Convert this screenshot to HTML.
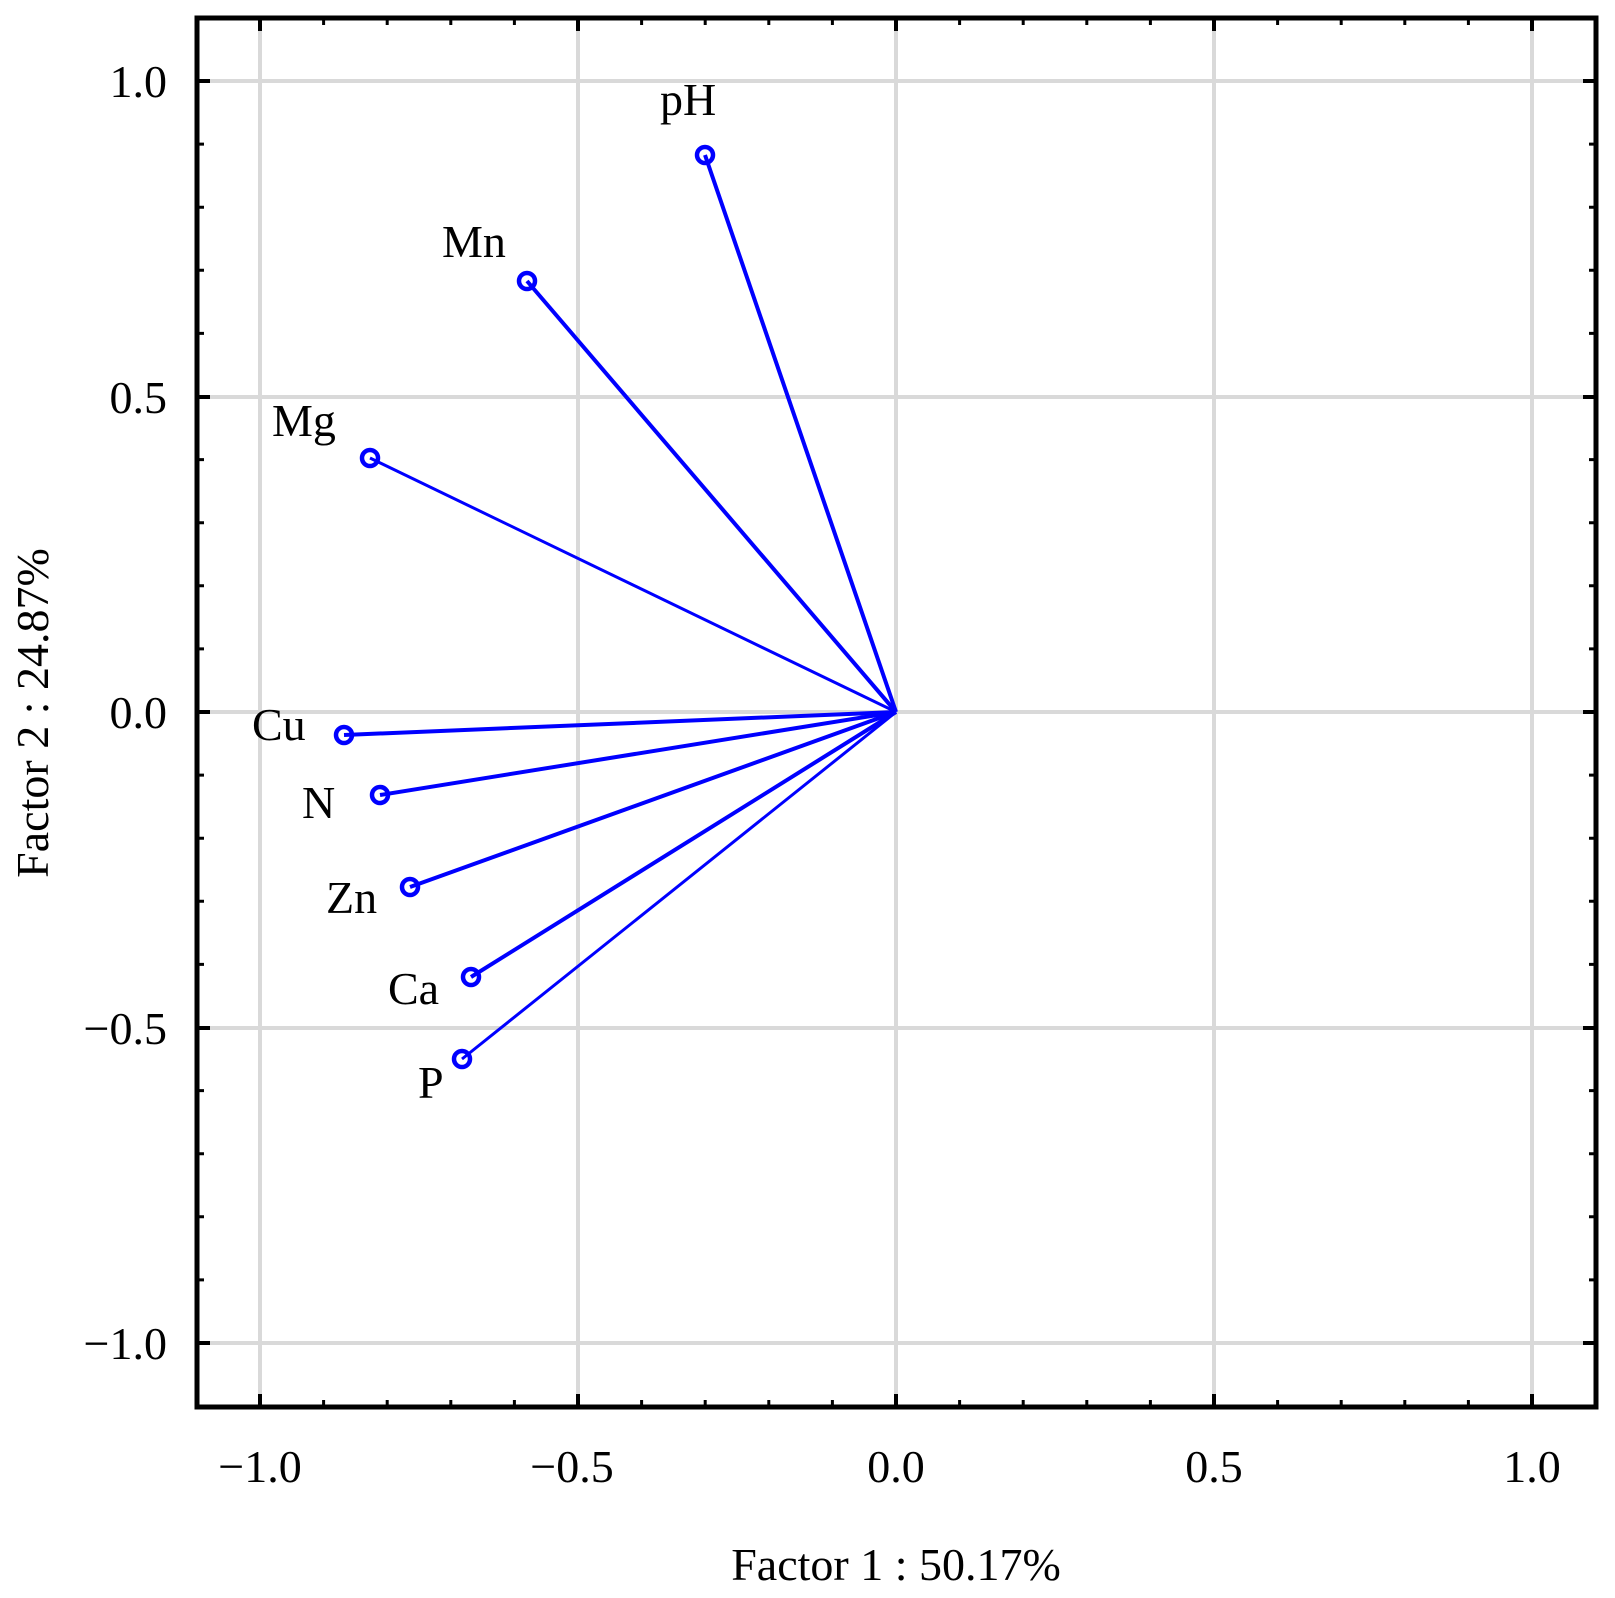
<!DOCTYPE html>
<html><head><meta charset="utf-8"><style>
html,body{margin:0;padding:0;background:#fff;}
svg text{font-family:"Liberation Serif",serif;fill:#000;}
</style></head><body>
<svg width="1615" height="1593" viewBox="0 0 1615 1593" xmlns="http://www.w3.org/2000/svg">
<g stroke="#d9d9d9" stroke-width="4">
<line x1="260" y1="18" x2="260" y2="1407"/><line x1="578" y1="18" x2="578" y2="1407"/>
<line x1="896" y1="18" x2="896" y2="1407"/><line x1="1214" y1="18" x2="1214" y2="1407"/>
<line x1="1532" y1="18" x2="1532" y2="1407"/>
<line x1="197" y1="81" x2="1596" y2="81"/><line x1="197" y1="397" x2="1596" y2="397"/>
<line x1="197" y1="712" x2="1596" y2="712"/><line x1="197" y1="1028" x2="1596" y2="1028"/>
<line x1="197" y1="1343" x2="1596" y2="1343"/>
</g>
<g stroke="#000" stroke-width="4">
<path d="M260 18v13M578 18v13M896 18v13M1214 18v13M1532 18v13M260 1407v-13M578 1407v-13M896 1407v-13M1214 1407v-13M1532 1407v-13
M197 81h13M197 397h13M197 712h13M197 1028h13M197 1343h13M1596 81h-13M1596 397h-13M1596 712h-13M1596 1028h-13M1596 1343h-13"/>
<path stroke-width="3" d="M323.6 18v7M387.2 18v7M450.8 18v7M514.4 18v7M641.6 18v7M705.2 18v7M768.8 18v7M832.4 18v7M959.6 18v7M1023.2 18v7M1086.8 18v7M1150.4 18v7M1277.6 18v7M1341.2 18v7M1404.8 18v7M1468.4 18v7
M323.6 1407v-7M387.2 1407v-7M450.8 1407v-7M514.4 1407v-7M641.6 1407v-7M705.2 1407v-7M768.8 1407v-7M832.4 1407v-7M959.6 1407v-7M1023.2 1407v-7M1086.8 1407v-7M1150.4 1407v-7M1277.6 1407v-7M1341.2 1407v-7M1404.8 1407v-7M1468.4 1407v-7
M197 144.1h7M197 207.2h7M197 270.3h7M197 333.4h7M197 459.6h7M197 522.7h7M197 585.8h7M197 648.9h7M197 775.1h7M197 838.2h7M197 901.3h7M197 964.4h7M197 1090.6h7M197 1153.7h7M197 1216.8h7M197 1279.9h7
M1596 144.1h-7M1596 207.2h-7M1596 270.3h-7M1596 333.4h-7M1596 459.6h-7M1596 522.7h-7M1596 585.8h-7M1596 648.9h-7M1596 775.1h-7M1596 838.2h-7M1596 901.3h-7M1596 964.4h-7M1596 1090.6h-7M1596 1153.7h-7M1596 1216.8h-7M1596 1279.9h-7"/>
</g>
<rect x="197" y="18" width="1399" height="1389" fill="none" stroke="#000" stroke-width="5"/>
<g stroke="#0000ff" stroke-width="4" fill="none">
<line x1="896" y1="712" x2="705" y2="155"/>
<line x1="896" y1="712" x2="527" y2="281"/>
<line x1="896" y1="712" x2="370" y2="458" stroke-width="3"/>
<line x1="896" y1="712" x2="344" y2="735"/>
<line x1="896" y1="712" x2="380" y2="795"/>
<line x1="896" y1="712" x2="410" y2="887"/>
<line x1="896" y1="712" x2="471" y2="977"/>
<line x1="896" y1="712" x2="462" y2="1059" stroke-width="3"/>
<g stroke-width="4.5">
<circle cx="705" cy="155" r="8"/><circle cx="527" cy="281" r="8"/>
<circle cx="370" cy="458" r="8"/><circle cx="344" cy="735" r="8"/>
<circle cx="380" cy="795" r="8"/><circle cx="410" cy="887" r="8"/>
<circle cx="471" cy="977" r="8"/><circle cx="462" cy="1059" r="8"/>
</g>
</g>
<g font-size="46">
<text x="660" y="115">pH</text>
<text x="442" y="257">Mn</text>
<text x="272" y="436">Mg</text>
<text x="252" y="740">Cu</text>
<text x="302" y="818">N</text>
<text x="326" y="913">Zn</text>
<text x="388" y="1004">Ca</text>
<text x="418" y="1098">P</text>
</g>
<g font-size="46" text-anchor="end">
<text x="167" y="97">1.0</text>
<text x="167" y="413">0.5</text>
<text x="167" y="728">0.0</text>
<text x="167" y="1044">−0.5</text>
<text x="167" y="1359">−1.0</text>
</g>
<g font-size="46" text-anchor="middle">
<text x="260" y="1482">−1.0</text>
<text x="572" y="1482">−0.5</text>
<text x="896" y="1482">0.0</text>
<text x="1214" y="1482">0.5</text>
<text x="1532" y="1482">1.0</text>
<text x="896" y="1580">Factor 1 : 50.17%</text>
<text transform="translate(48,713) rotate(-90)">Factor 2 : 24.87%</text>
</g>
</svg>
</body></html>
